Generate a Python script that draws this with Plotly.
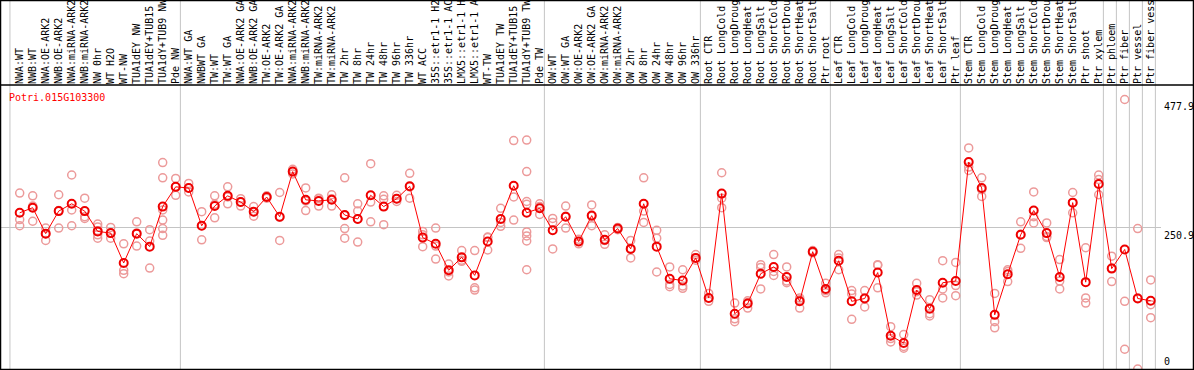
import plotly.graph_objects as go

categories = [
    "NWA:WT", "NWB:WT", "NWA:OE-ARK2", "NWB:OE-ARK2", "NWA:miRNA-ARK2", "NWB:miRNA-ARK2",
    "NW 0hr", "WT H2O", "WT-NW", "TUA1dEY NW", "TUA1dEY+TUB15 NW", "TUA1dY+TUB9 NW", "Pde NW",
    "NWA:WT GA", "NWBWT GA", "TW:WT", "TW:WT GA", "NWA:OE-ARK2 GA", "NWB:OE-ARK2 GA",
    "TW:OE-ARK2", "TW:OE-ARK2 GA", "NWA:miRNA-ARK2 GA", "NWB:miRNA-ARK2 GA", "TW:miRNA-ARK2",
    "TW:miRNA-ARK2", "TW 2hr", "TW 8hr", "TW 24hr", "TW 48hr", "TW 96hr", "TW 336hr", "WT ACC",
    "35S::etr1-1 H2O", "35S::etr1-1 ACC", "LMX5::etr1-1 H2O", "LMX5::etr1-1 ACC", "WT-TW",
    "TUA1dEY TW", "TUA1dEY+TUB15 TW", "TUA1dY+TUB9 TW", "Pde TW",
    "OW:WT", "OW:WT GA", "OW:OE-ARK2", "OW:OE-ARK2 GA", "OW:miRNA-ARK2", "OW:miRNA-ARK2",
    "OW 2hr", "OW 8hr", "OW 24hr", "OW 48hr", "OW 96hr", "OW 336hr",
    "Root CTR", "Root LongCold", "Root LongDrought", "Root LongHeat", "Root LongSalt",
    "Root ShortCold", "Root ShortDrought", "Root ShortHeat", "Root ShortSalt", "Ptr root",
    "Leaf CTR", "Leaf LongCold", "Leaf LongDrought", "Leaf LongHeat", "Leaf LongSalt",
    "Leaf ShortCold", "Leaf ShortDrought", "Leaf ShortHeat", "Leaf ShortSalt", "Ptr leaf",
    "Stem CTR", "Stem LongCold", "Stem LongDrought", "Stem LongHeat", "Stem LongSalt",
    "Stem ShortCold", "Stem ShortDrought", "Stem ShortHeat", "Stem ShortSalt", "Ptr shoot",
    "Ptr xylem", "Ptr phloem", "Ptr fiber", "Ptr vessel", "Ptr fiber vessel",
]

means = [
    277, 286, 240, 280, 293, 280, 244, 241, 188, 240, 217, 288, 323,
    321, 254, 289, 307, 296, 279, 305, 270, 350, 300, 298, 300, 273, 266, 308, 288, 302,
    324, 233, 222, 175, 198, 166, 226, 266, 325, 277, 285,
    246, 270, 226, 272, 229, 249, 213, 293, 217, 160, 157, 197,
    126, 311, 98, 116, 169, 181, 163, 120, 208, 142,
    192, 120, 125, 171, 59, 46, 140, 107, 153, 156,
    367, 321, 96, 168, 238, 281, 241, 163, 295, 154, 328, 178, 212, 125, 121,
]

replicates = [
    [312, 265, 254], [307, 289, 262], [250, 240, 228], [309, 281, 250], [344, 282, 254],
    [303, 270, 267], [257, 252, 245, 238, 232], [251, 241, 232], [222, 175, 169],
    [261, 241, 218], [247, 227, 179], [366, 339, 282, 264, 249, 237], [338, 323, 308],
    [329, 321, 314], [279, 254, 229], [307, 292, 268], [323, 305, 293], [302, 296, 289],
    [288, 279, 271], [307, 305, 303], [313, 269, 228], [354, 350, 346], [321, 298, 281],
    [303, 302, 289], [309, 302, 289], [339, 272, 249, 232], [293, 280, 266, 225],
    [364, 296, 261], [307, 301, 256], [308, 302, 297], [347, 323, 303], [244, 238, 217],
    [250, 218, 195], [186, 172, 165], [210, 193, 191], [210, 144, 140], [234, 233, 211],
    [285, 260, 253], [405, 305, 264], [406, 350, 297, 292, 243, 236, 227, 176],
    [293, 288, 274],
    [267, 260, 213], [289, 271, 250], [230, 226, 222], [291, 271, 254], [238, 228, 221],
    [251, 249, 247], [228, 214, 197], [339, 280, 260], [246, 232, 172], [181, 150, 146],
    [176, 147, 143], [203, 197, 193],
    [134, 126, 120], [348, 303, 286], [117, 89, 84], [121, 118, 108], [185, 180, 142],
    [203, 173, 166], [181, 156, 153], [126, 123, 108], [210, 208, 206], [152, 139, 135],
    [203, 197, 176], [139, 133, 88], [139, 126, 110], [185, 184, 144], [75, 54, 48],
    [61, 40, 37], [152, 137, 131], [123, 98, 94], [192, 142, 126], [189, 148, 130],
    [392, 358, 352], [339, 318, 306], [134, 84, 73], [176, 173, 155], [261, 239, 214],
    [314, 270, 259], [259, 235, 233], [194, 156, 142], [313, 295, 277], [215, 126, 117],
    [344, 336, 309], [200, 179, 155], [477.9, 120, 35], [249, 126, 0], [158, 114, 91],
]

group_breaks = [-0.75, 12.36, 40.36, 52.36, 62.36, 72.36, 83.36, 84.36, 85.36, 86.36, 87.36]
y_ticks = [477.9, 250.9, 0]
gene_id = "Potri.015G103300"

W, H = 1194, 370
MONO = "DejaVu Sans Mono"
x_idx = list(range(len(categories)))

rx, ry = [], []
for i, reps in enumerate(replicates):
    for v in reps:
        rx.append(i)
        ry.append(v)

fig = go.Figure()
fig.add_trace(go.Scatter(
    x=rx, y=ry, mode="markers", hoverinfo="skip",
    marker=dict(symbol="circle-open", size=8, color="#ec9a9a", line=dict(width=1.5, color="#ec9a9a")),
))
fig.add_trace(go.Scatter(
    x=x_idx, y=means, mode="lines+markers",
    line=dict(color="#ff0000", width=1),
    marker=dict(symbol="circle-open", size=8, color="#ee0000", line=dict(width=2, color="#ee0000")),
))

x0 = -19.7 / 13.0
x1 = x0 + W / 13.0
y_top_px, y_bot_px = 85, 369
ymax = 503.6

shapes = []
for b in group_breaks:
    shapes.append(dict(type="line", xref="x", yref="paper", x0=b, x1=b, y0=0, y1=1,
                       line=dict(color="#c4c4c4", width=1), layer="below"))
shapes.append(dict(type="line", xref="paper", yref="y", x0=0, x1=1161 / W, y0=250.9, y1=250.9,
                   line=dict(color="#c4c4c4", width=1), layer="below"))
shapes.append(dict(type="line", xref="paper", yref="paper", x0=0, x1=1,
                   y0=(H - y_top_px) / H, y1=(H - y_top_px) / H, line=dict(color="black", width=1.5)))
shapes.append(dict(type="rect", xref="paper", yref="paper", x0=0.5 / W, x1=1 - 0.5 / W,
                   y0=0.5 / H, y1=1 - 0.5 / H, line=dict(color="black", width=1.5)))

annotations = [dict(text=gene_id, xref="paper", yref="paper", x=7 / W, y=(H - 97) / H,
                    xanchor="left", yanchor="middle", showarrow=False,
                    font=dict(family=MONO, size=10, color="#ff0000"))]
for v in y_ticks:
    annotations.append(dict(text=("%g" % v), xref="paper", yref="y", x=1162 / W, y=v,
                            xanchor="left", yanchor=("bottom" if v == 0 else "top"),
                            showarrow=False, font=dict(family=MONO, size=10, color="black")))

fig.update_layout(
    width=W, height=H, margin=dict(l=0, r=0, t=0, b=0),
    paper_bgcolor="white", plot_bgcolor="white", showlegend=False,
    shapes=shapes, annotations=annotations,
    xaxis=dict(range=[x0, x1], domain=[0, 1], side="top", tickmode="array",
               tickvals=x_idx, ticktext=categories, tickangle=-90, ticks="",
               showgrid=False, zeroline=False, showline=False, automargin=False,
               tickfont=dict(family=MONO, size=10, color="black")),
    yaxis=dict(range=[0, ymax], domain=[(H - y_bot_px) / H, (H - y_top_px) / H],
               showgrid=False, zeroline=False, showline=False, showticklabels=False,
               automargin=False),
)

fig.write_html("out.html", config={"displayModeBar": False},
               post_script="document.body.style.margin='0';document.body.style.overflow='hidden';")
